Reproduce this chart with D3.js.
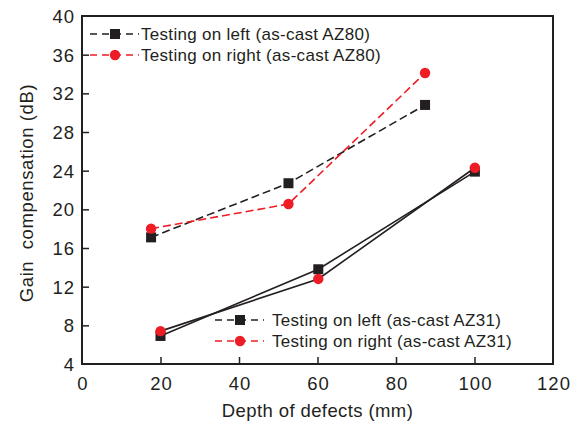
<!DOCTYPE html>
<html><head><meta charset="utf-8">
<script src="https://cdn.jsdelivr.net/npm/d3@7"></script>
<style>body{margin:0;background:#fff}svg{font-family:"Liberation Sans",Arial,sans-serif}</style>
</head><body><svg id="c" width="579" height="427"></svg>
<script>
const xTicks=[0,20,40,60,80,100,120];
const yTicks=[4,8,12,16,20,24,28,32,36,40];
const az80LeftX=[17.6,52.6,87.4], az80LeftY=[17.1,22.7,30.8];
const az80RightX=[17.6,52.6,87.4], az80RightY=[18.0,20.55,34.1];
const az31LeftX=[20,60.2,100.1], az31LeftY=[6.9,13.8,23.9];
const az31RightX=[20,60.2,100.1], az31RightY=[7.4,12.8,24.3];
const legendTop=["Testing on left (as-cast AZ80)","Testing on right (as-cast AZ80)"];
const legendBottom=["Testing on left (as-cast AZ31)","Testing on right (as-cast AZ31)"];

const svg=d3.select("#c");
const L=82,R=553,T=16,B=364;
const x=d3.scaleLinear().domain([0,120]).range([L,R]);
const y=d3.scaleLinear().domain([4,40]).range([B,T]);
const RED="#ee1c25", BLK="#231f20";

// axes
const ax=svg.append("g").attr("transform",`translate(0,${B})`)
 .call(d3.axisBottom(x).tickValues(xTicks).tickSizeInner(-7).tickSizeOuter(0).tickPadding(13));
const ay=svg.append("g").attr("transform",`translate(${L},0)`)
 .call(d3.axisLeft(y).tickValues(yTicks).tickSizeInner(-7).tickSizeOuter(0).tickPadding(7));
[ax,ay].forEach(g=>{g.select(".domain").remove();
 g.selectAll(".tick line").attr("stroke",BLK).attr("stroke-width",1.5);
 g.selectAll(".tick text").attr("font-size",18.5).attr("fill",BLK).attr("letter-spacing",1);});
ax.selectAll(".tick").filter(d=>d===0||d===120).select("line").remove();
ay.selectAll(".tick").filter(d=>d===4||d===40).select("line").remove();
ay.selectAll(".tick text").attr("dy","0.35em");
ax.selectAll(".tick text").attr("dx","0.5");

svg.append("rect").attr("x",L).attr("y",T).attr("width",R-L).attr("height",B-T)
 .attr("fill","none").attr("stroke",BLK).attr("stroke-width",2);

const line=d3.line().x(d=>x(d[0])).y(d=>y(d[1]));
function series(xs,ys,color,dash,marker,lineColor){
 const pts=xs.map((v,i)=>[v,ys[i]]);
 svg.append("path").attr("d",line(pts)).attr("fill","none").attr("stroke",lineColor)
  .attr("stroke-width",1.6).attr("stroke-dasharray",dash||null);
 pts.forEach(p=>drawMarker(x(p[0]),y(p[1]),marker,color));
}
function drawMarker(cx,cy,m,color){
 if(m==="sq") svg.append("rect").attr("x",cx-5).attr("y",cy-5).attr("width",10).attr("height",10).attr("fill",color);
 else svg.append("circle").attr("cx",cx).attr("cy",cy).attr("r",5.2).attr("fill",color);
}
series(az31LeftX,az31LeftY,BLK,null,"sq",BLK);
series(az31RightX,az31RightY,RED,null,"ci",BLK);
series(az80LeftX,az80LeftY,BLK,"8,4","sq",BLK);
series(az80RightX,az80RightY,RED,"8,4","ci",RED);

function legend(x0,y0,color,m,text,tx){
 svg.append("line").attr("x1",x0).attr("x2",x0+49).attr("y1",y0).attr("y2",y0)
  .attr("stroke",color).attr("stroke-width",1.6).attr("stroke-dasharray","7,5");
 drawMarker(x0+25,y0,m,color);
 svg.append("text").attr("x",x0+tx).attr("y",y0).attr("dy","0.35em").attr("font-size",17).attr("letter-spacing",0.3).attr("fill",BLK).text(text);
}
legend(90,34,BLK,"sq",legendTop[0],51);
legend(90,55,RED,"ci",legendTop[1],51);
legend(215,320,BLK,"sq",legendBottom[0],57);
legend(215,341,RED,"ci",legendBottom[1],57);

svg.append("text").attr("x",(L+R)/2).attr("y",417).attr("text-anchor","middle").attr("font-size",18.5).attr("letter-spacing",0.4).attr("fill",BLK).text("Depth of defects (mm)");
svg.append("text").attr("transform",`translate(33,${(T+B)/2+3}) rotate(-90)`).attr("text-anchor","middle").attr("font-size",18.5).attr("letter-spacing",0.6).attr("fill",BLK).attr("xml:space","preserve").text("Gain  compensation (dB)");
</script></body></html>
